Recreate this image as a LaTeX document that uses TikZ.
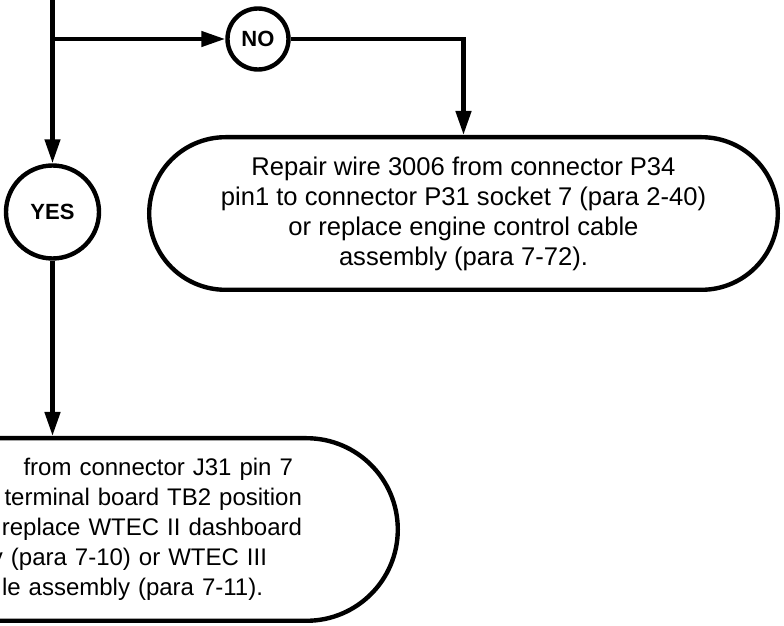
\documentclass[tikz,border=0pt]{standalone}
\usepackage{fontspec}
\setmainfont{Liberation Sans}
\usetikzlibrary{arrows.meta, positioning}

\begin{document}
\begin{tikzpicture}[
    x=0.5pt, y=-0.5pt,
    line width=2.2pt,
    answer/.style={circle, draw=black, inner sep=0pt, font=\fontsize{11}{13}\selectfont\bfseries},
    repair/.style={rectangle, draw=black, minimum width=314.3pt, font=\fontsize{12.8}{15}\selectfont, align=center},
    arrow/.style={-{Triangle[length=12pt, width=7.5pt]}}
]
\useasboundingbox (0,0) rectangle (784,626);
\clip (0,0) rectangle (784,626);

\coordinate (top) at (52.5,-10);
\coordinate (split) at (52.5,39);
\node[answer, minimum size=30.5pt] (no) at (258,39) {NO};
\node[answer, minimum size=46.5pt] (yes) at (52.5,212) {YES};
\node[repair, minimum height=76.3pt, rounded corners=38.15pt] (repairP) at (463.5,213.5)
    {Repair wire 3006 from connector P34\\ pin1 to connector P31 socket 7 (para 2-40)\\ or replace engine control cable\\ assembly (para 7-72).};
\node[repair, minimum height=91.3pt, rounded corners=45.65pt, text width=218.5pt, align=right,
      font=\fontsize{12}{15}\selectfont] (repairJ) at (83.5,529.5)
    {from connector J31 pin 7\kern4.5pt\\ terminal board TB2 position\\ replace WTEC II dashboard\\ y (para 7-10) or WTEC III\kern17.5pt\\ le assembly (para 7-11).\kern19.5pt};

\draw[arrow] (top) -- (yes);
\draw[arrow] (split) -- (no);
\draw[arrow] (no) -| (repairP);
\draw[arrow] (yes) -- (yes |- repairJ.north);
\end{tikzpicture}
\end{document}
